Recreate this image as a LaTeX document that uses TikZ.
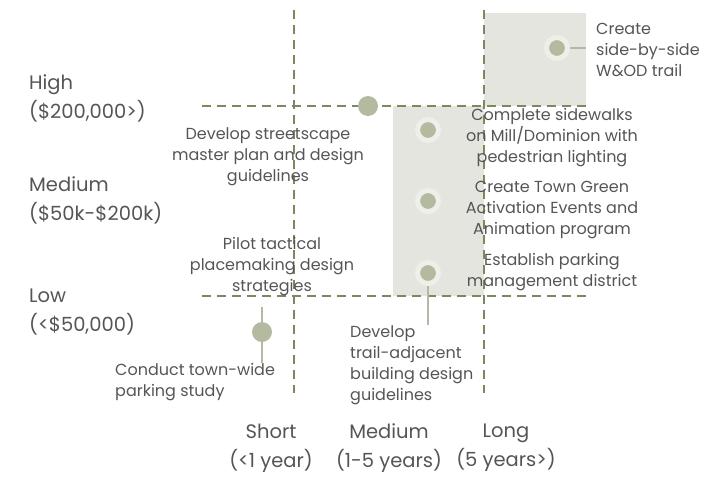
\documentclass[tikz,border=0pt]{standalone}
\usepackage{fontspec}
\setmainfont{Poppins}
\usepackage{xcolor}
\usetikzlibrary{positioning}

\definecolor{gridgreen}{HTML}{7B8A5E}
\definecolor{dotgreen}{HTML}{B4BA9F}
\definecolor{halo}{HTML}{EEEFE9}
\definecolor{panel}{HTML}{E3E5DE}
\definecolor{inktext}{HTML}{555555}

\begin{document}
\begin{tikzpicture}[x=1pt,y=-1pt]
    % Styles for the grid, the panels and the dots
    \tikzstyle{grid line}=[gridgreen, line width=2.6pt, dash pattern=on 9pt off 6pt];
    \tikzstyle{dot}=[circle, fill=dotgreen, inner sep=0pt, minimum size=20pt];
    \tikzstyle{ring dot}=[circle, fill=dotgreen, draw=halo, line width=5pt, inner sep=0pt, minimum size=21pt];
    \tikzstyle{link}=[dotgreen, line width=2pt];
    \tikzstyle{task}=[text=inktext, font=\fontsize{16}{21}\selectfont, align=center, inner sep=0pt];
    \tikzstyle{axis}=[text=inktext, font=\fontsize{19.5}{29}\selectfont, inner sep=0pt];

    \useasboundingbox (0,0) rectangle (710,477);

    % Shaded panels
    \fill[panel] (484,13) rectangle (586,106);
    \fill[panel] (393,106) rectangle (484,296);

    % Dashed grid
    \draw[grid line] (294,10) -- (294,393);
    \draw[grid line] (484,10) -- (484,393);
    \draw[grid line] (202,106) -- (586,106);
    \draw[grid line] (202,296) -- (586,296);

    % Cost axis
    \node[axis, anchor=west, align=left] (high) at (29,98) {High\\(\$200,000>)};
    \node[axis, anchor=west, align=left] (mid) at (29,200) {Medium\\(\$50k-\$200k)};
    \node[axis, anchor=west, align=left] (low) at (29,312) {Low\\(<\$50,000)};

    % Time axis
    \node[axis, align=center] (short) at (271,448) {Short\\(<1 year)};
    \node[axis, align=center] (medium) at (389,448) {Medium\\(1-5 years)};
    \node[axis, align=center] (long) at (506,448) {Long\\(5 years>)};

    % Dot positions
    \coordinate (trail) at (557,48);
    \coordinate (streets) at (368,106);
    \coordinate (walks) at (428,130);
    \coordinate (green) at (428,201);
    \coordinate (parking) at (428,273);
    \coordinate (study) at (262,332);
    \coordinate (study top) at (262,307);

    % Task labels
    \node[task, anchor=west, align=left] (trail txt) at (596,50) {Create\\side-by-side\\W\&OD trail};
    \node[task] (streets txt) at (268,157) {Develop streetscape\\master plan and design\\guidelines};
    \node[task] (walks txt) at (552,138) {Complete sidewalks\\on Mill/Dominion with\\pedestrian lighting};
    \node[task] (green txt) at (552,210) {Create Town Green\\Activation Events and\\Animation program};
    \node[task] (parking txt) at (552,272) {Establish parking\\management district};
    \node[task] (pilot txt) at (272,267) {Pilot tactical\\placemaking design\\strategies};
    \node[task, anchor=north west, align=left] (guide txt) at (350,325) {Develop\\trail-adjacent\\building design\\guidelines};
    \node[task, anchor=north west, align=left] (study txt) at (115,363) {Conduct town-wide\\parking study};

    % Leader lines
    \draw[link] (trail) -- (586,48);
    \draw[link] (parking) -- (parking |- guide txt.north);
    \draw[link] (study top) -- (study |- study txt.north);

    % Dots
    \node[ring dot] (trail dot) at (trail) {};
    \node[dot] (streets dot) at (streets) {};
    \node[ring dot] (walks dot) at (walks) {};
    \node[ring dot] (green dot) at (green) {};
    \node[ring dot] (parking dot) at (parking) {};
    \node[dot] (study dot) at (study) {};
\end{tikzpicture}
\end{document}
